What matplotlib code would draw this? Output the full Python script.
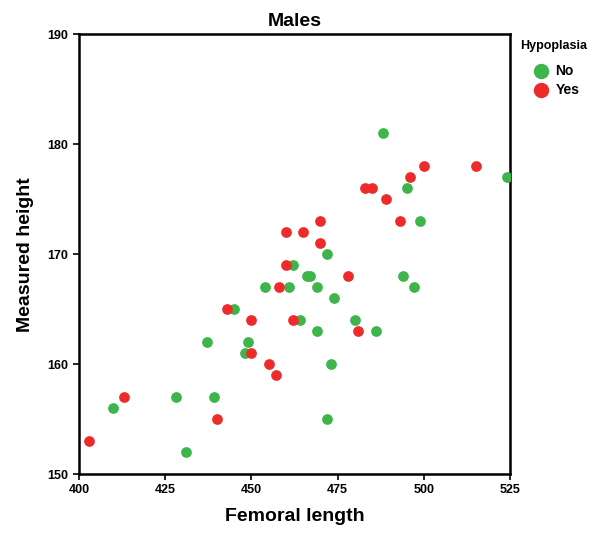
import matplotlib
matplotlib.use("Agg")
import matplotlib.pyplot as plt

plt.rcParams['font.family'] = ['Liberation Sans Narrow', 'Liberation Sans', 'DejaVu Sans']

# data
no_x = [488, 524, 495, 499, 472, 494, 466, 467, 497, 454, 461, 469, 474, 445,
        464, 480, 469, 486, 449, 437, 448, 473, 472, 431, 410, 428, 439, 462]
no_y = [181, 177, 176, 173, 170, 168, 168, 168, 167, 167, 167, 167, 166, 165,
        164, 164, 163, 163, 162, 162, 161, 160, 155, 152, 156, 157, 157, 169]
yes_x = [500, 515, 496, 483, 485, 489, 493, 470, 460, 465, 470, 460, 478, 458,
         443, 450, 462, 481, 450, 455, 457, 413, 440, 403]
yes_y = [178, 178, 177, 176, 176, 175, 173, 173, 172, 172, 171, 169, 168, 167,
         165, 164, 164, 163, 161, 160, 159, 157, 155, 153]

green = '#3db54a'
red = '#ee2b2b'

fig = plt.figure(figsize=(6.03, 5.35), dpi=100)
ax = fig.add_axes([0.131, 0.114, 0.715, 0.822])

ax.scatter(no_x, no_y, s=45, color=green, label='No', zorder=3)
ax.scatter(yes_x, yes_y, s=45, color=red, label='Yes', zorder=3)

ax.set_xlim(400, 525)
ax.set_ylim(150, 190)
ax.set_xticks([400, 425, 450, 475, 500, 525])
ax.set_yticks([150, 160, 170, 180, 190])

for s in ax.spines.values():
    s.set_linewidth(1.8)
ax.tick_params(direction='out', length=4, width=1.2, labelsize=9)
for lab in ax.get_xticklabels() + ax.get_yticklabels():
    lab.set_fontweight('bold')

ax.set_title('Males', fontsize=14, fontweight='bold', pad=6)
ax.set_xlabel('Femoral length', fontsize=14, fontweight='bold', labelpad=8)
ax.set_ylabel('Measured height', fontsize=14, fontweight='bold', labelpad=10)

leg = ax.legend(title='Hypoplasia', loc='upper left', bbox_to_anchor=(1.0, 1.01),
                frameon=False, fontsize=10, title_fontsize=9, handletextpad=0.05,
                labelspacing=0.35, borderaxespad=0.3, markerscale=1.5)
leg.get_title().set_fontweight('bold')
leg._legend_box.sep = 9
for t in leg.get_texts():
    t.set_fontweight('bold')

fig.savefig('out.png', dpi=100)
